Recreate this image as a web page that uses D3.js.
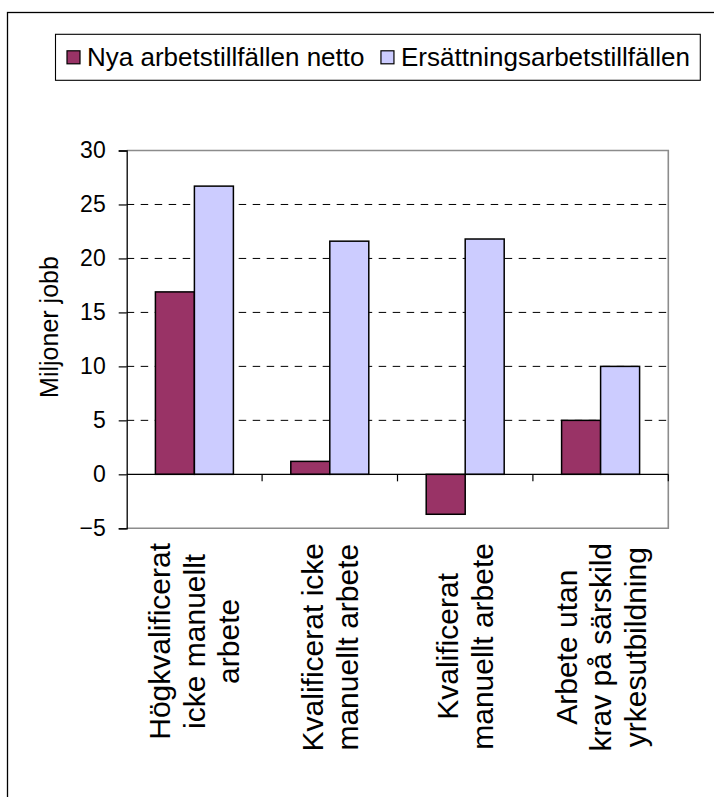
<!DOCTYPE html>
<html>
<head>
<meta charset="utf-8">
<script src="https://cdn.jsdelivr.net/npm/d3@7"></script>
<style>
  html, body { margin: 0; padding: 0; background: #fff; }
  svg { display: block; font-family: Arial, "Liberation Sans", sans-serif; }
</style>
</head>
<body>
<svg id="chart" width="714" height="797"></svg>
<script>
// Job categories (each label broken into its display lines)
const categoryLines = [
  ["Högkvalificerat", "icke manuellt", "arbete"],
  ["Kvalificerat icke", "manuellt arbete"],
  ["Kvalificerat", "manuellt arbete"],
  ["Arbete utan", "krav på särskild", "yrkesutbildning"]
];
const categories = categoryLines.map(l => l.join(" "));

// Series, millions of jobs
const seriesNames = ["Nya arbetstillfällen netto", "Ersättningsarbetstillfällen"];
const netNewJobs = [16.9, 1.2, -3.7, 5.0];
const replacementJobs = [26.7, 21.6, 21.8, 10.0];
const seriesColors = ["#993366", "#CCCCFF"];

const yTicks = [-5, 0, 5, 10, 15, 20, 25, 30];
const yTitle = "Miljoner jobb";

const rows = categories.map((c, i) => ({ cat: c, values: [netNewJobs[i], replacementJobs[i]] }));

const svg = d3.select("#chart");
const plot = { left: 126.7, right: 668.3, top: 150.5, bottom: 528.3 };

// Outer chart frame (runs off the bottom/right edges)
svg.append("rect")
  .attr("x", 7.5).attr("y", 12.5)
  .attr("width", 760).attr("height", 840)
  .attr("fill", "#fff").attr("stroke", "#000").attr("stroke-width", 1.3);

const y = d3.scaleLinear().domain([-5, 30]).range([plot.bottom, plot.top]);
const x0 = d3.scaleBand().domain(categories).range([plot.left, plot.right])
  .paddingInner(0.424).paddingOuter(0.212);
const x1 = d3.scaleBand().domain([0, 1]).range([0, x0.bandwidth()]);

// Dashed gridlines
svg.append("g").selectAll("line")
  .data(yTicks.filter(t => t > 0 && t < 30))
  .join("line")
  .attr("x1", plot.left).attr("x2", plot.right)
  .attr("y1", d => y(d)).attr("y2", d => y(d))
  .attr("stroke", "#000").attr("stroke-width", 1)
  .attr("stroke-dasharray", "7.5,6.5");

// Plot area border (top/right/bottom in grey)
svg.append("path")
  .attr("d", `M${plot.left},${plot.top}H${plot.right}V${plot.bottom}H${plot.left}`)
  .attr("fill", "none").attr("stroke", "#8c8c8c").attr("stroke-width", 1.6);

// Bars
const groups = svg.append("g").selectAll("g")
  .data(rows).join("g")
  .attr("transform", d => `translate(${x0(d.cat)},0)`);
groups.selectAll("rect")
  .data(d => d.values.map((v, k) => ({ v, k })))
  .join("rect")
  .attr("x", d => x1(d.k))
  .attr("width", x1.bandwidth())
  .attr("y", d => y(Math.max(0, d.v)))
  .attr("height", d => Math.abs(y(d.v) - y(0)))
  .attr("fill", d => seriesColors[d.k])
  .attr("stroke", "#000").attr("stroke-width", 1.5);

// Y axis
const yAxis = svg.append("g")
  .attr("transform", `translate(${plot.left},0)`)
  .call(d3.axisLeft(y).tickValues(yTicks).tickSize(8).tickPadding(13)
    .tickFormat(d3.format("d")));
yAxis.select(".domain").attr("stroke", "#000").attr("stroke-width", 1.3);
yAxis.selectAll(".tick line").attr("stroke", "#000").attr("stroke-width", 1.2);
yAxis.selectAll(".tick text").attr("font-size", 23).attr("fill", "#000")
  .attr("font-family", "Arial, 'Liberation Sans', sans-serif");

// Zero line with category separators
const xBoundaries = d3.range(categories.length + 1).map(i => plot.left + i * x0.step());
svg.append("line")
  .attr("x1", plot.left).attr("x2", plot.right)
  .attr("y1", y(0)).attr("y2", y(0))
  .attr("stroke", "#000").attr("stroke-width", 1.3);
svg.append("g").selectAll("line")
  .data(xBoundaries.slice(1))
  .join("line")
  .attr("x1", d => d).attr("x2", d => d)
  .attr("y1", y(0)).attr("y2", y(0) + 7)
  .attr("stroke", "#000").attr("stroke-width", 1.2);

// Rotated category labels, top-aligned under the plot, lines centred
const catFont = 30, lineH = 34.5, labelTop = 543;
categoryLines.forEach((lines, i) => {
  const cx = x0(categories[i]) + x0.bandwidth() / 2;
  const g = svg.append("g")
    .attr("transform", `translate(${cx},0) rotate(-90)`);
  const texts = g.selectAll("text").data(lines).join("text")
    .attr("font-size", catFont)
    .attr("text-anchor", "middle")
    .attr("y", (d, j) => (j - (lines.length - 1) / 2) * lineH)
    .attr("dy", "0.35em")
    .text(d => d);
  const maxLen = d3.max(texts.nodes(), n => n.getComputedTextLength());
  texts.attr("x", -(labelTop + maxLen / 2));
});

// Y axis title
svg.append("text")
  .attr("transform", `translate(57.5,327) rotate(-90)`)
  .attr("text-anchor", "middle")
  .attr("font-size", 25)
  .text(yTitle);

// Legend
const legend = svg.append("g");
legend.append("rect")
  .attr("x", 55.5).attr("y", 34.3).attr("width", 644.8).attr("height", 46)
  .attr("fill", "#fff").attr("stroke", "#000").attr("stroke-width", 1.1);
const legFont = 26, legMid = 57.3;
legend.append("text").attr("x", 87).attr("y", legMid).attr("dy", "0.35em")
  .attr("font-size", legFont).text(seriesNames[0]);
legend.append("rect").attr("x", 67).attr("y", legMid - 6.5).attr("width", 13).attr("height", 13)
  .attr("fill", seriesColors[0]).attr("stroke", "#000").attr("stroke-width", 1.2);
const t2 = legend.append("text").attr("x", 690).attr("y", legMid).attr("dy", "0.35em")
  .attr("text-anchor", "end").attr("font-size", legFont).text(seriesNames[1]);
const t2Start = 690 - t2.node().getComputedTextLength();
legend.append("rect").attr("x", t2Start - 20).attr("y", legMid - 6.5).attr("width", 13).attr("height", 13)
  .attr("fill", seriesColors[1]).attr("stroke", "#000").attr("stroke-width", 1.2);
</script>
</body>
</html>
